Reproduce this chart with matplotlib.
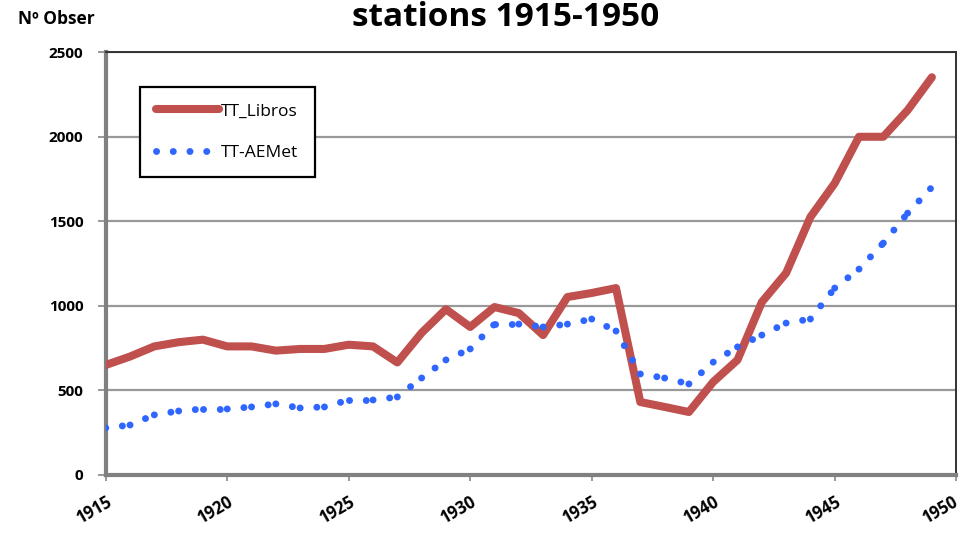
import matplotlib
matplotlib.use("Agg")
import numpy as np
import matplotlib.pyplot as plt
import matplotlib.transforms as mtransforms
from matplotlib.lines import Line2D

plt.rcParams.update({
    "font.family": ["Open Sans", "DejaVu Sans"],
    "font.weight": "bold",
    "axes.unicode_minus": False,
})

years = np.arange(1915, 1950)
tt_libros = [650, 700, 760, 785, 800, 760, 760, 735, 745, 745,
             770, 760, 665, 840, 980, 875, 993, 957, 827, 1052,
             1076, 1105, 431, 402, 372, 550, 680, 1022, 1194, 1525,
             1725, 2000, 2000, 2157, 2352]
tt_aemet = [278, 295, 355, 378, 390, 390, 402, 420, 396, 402,
            443, 443, 461, 573, 680, 745, 892, 892, 875, 892,
            922, 851, 597, 573, 538, 667, 757, 827, 898, 922,
            1105, 1217, 1371, 1548, 1702]
x_ticks = [1915, 1920, 1925, 1930, 1935, 1940, 1945, 1950]
y_ticks = [0, 500, 1000, 1500, 2000, 2500]

red = '#C0504D'
blue = '#2F66FF'
dots = (0, (0.01, 2.4))

fig = plt.figure(figsize=(9.61, 5.33), dpi=100)
ax = fig.add_axes([0.110, 0.109, 0.885, 0.793])

ax.plot(years, tt_libros, color=red, lw=5.8, solid_capstyle='round',
        solid_joinstyle='round', zorder=3)
# excel style: the dot pattern starts again on every segment
for i in range(len(years) - 1):
    ax.plot(years[i:i + 2], tt_aemet[i:i + 2], color=blue, lw=5,
            linestyle=dots, dash_capstyle='round', zorder=4)

ax.set_xlim(1915, 1950)
ax.set_ylim(0, 2500)
ax.set_xticks(x_ticks)
ax.set_yticks(y_ticks)
ax.set_xticklabels([str(t) for t in x_ticks], rotation=30, ha='right',
                   va='top', rotation_mode='anchor', fontsize=12, fontweight='bold')
ax.set_yticklabels([str(t) for t in y_ticks], fontsize=11, fontweight='bold')
ax.tick_params(axis='y', length=6, width=1.2, color='#888888', pad=10)
ax.tick_params(axis='x', length=4, width=1.2, color='#888888', pad=9)
ax.grid(axis='y', color='#999999', lw=1.6)
ax.set_axisbelow(True)
for side in ['left', 'bottom']:
    ax.spines[side].set_color('#808080')
    ax.spines[side].set_linewidth(3)
for side in ['top', 'right']:
    ax.spines[side].set_color('#333333')
    ax.spines[side].set_linewidth(1.4)

# keep the last year label inside the picture
last = ax.get_xticklabels()[-1]
last.set_transform(last.get_transform() +
                   mtransforms.ScaledTranslation(-4 / 100, 0, fig.dpi_scale_trans))

handles = [Line2D([], [], color=red, lw=5.8, solid_capstyle='round'),
           Line2D([], [], color=blue, lw=5, linestyle=dots, dash_capstyle='round')]
leg = ax.legend(handles, ['TT_Libros', 'TT-AEMet'], loc='upper left',
                bbox_to_anchor=(0.04, 0.918), fancybox=False,
                edgecolor='black', framealpha=1, fontsize=12.5, handlelength=3.6,
                handletextpad=0.15, borderpad=0.95, labelspacing=1.45,
                borderaxespad=0)
leg.get_frame().set_linewidth(1.6)
for t in leg.get_texts():
    t.set_fontweight('normal')

fig.text(0.526, 0.968, 'stations 1915-1950', ha='center', va='center',
         fontsize=24, fontweight='bold')
fig.text(0.019, 0.965, 'Nº Obser', ha='left', va='center', fontsize=12.5,
         fontweight='bold')

fig.savefig('out.png', dpi=100)
